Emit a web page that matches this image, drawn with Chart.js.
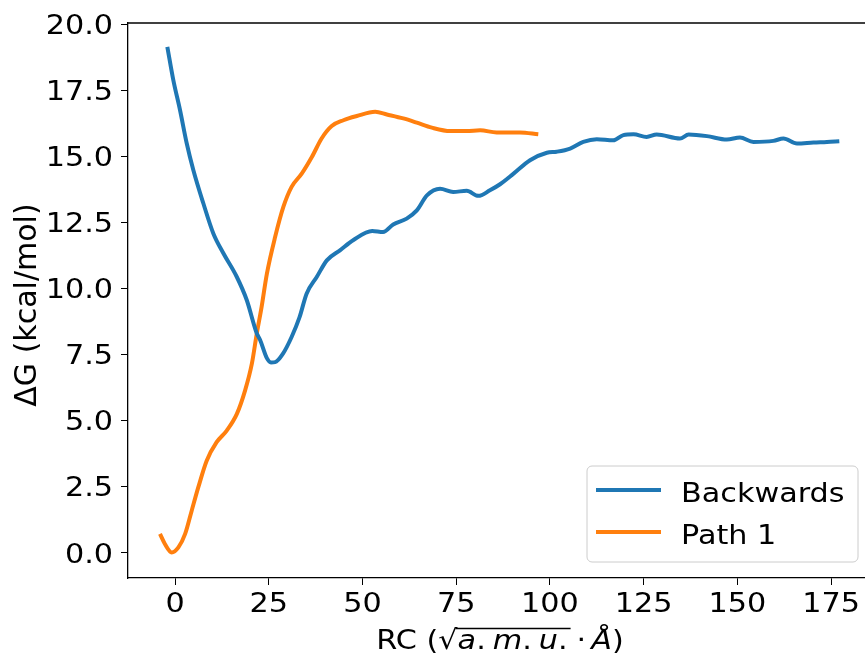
<!DOCTYPE html>
<html>
<head>
<meta charset="utf-8">
<script src="https://cdn.jsdelivr.net/npm/chart.js@4.4.1/dist/chart.umd.min.js"></script>
<style>
  html, body { margin: 0; padding: 0; background: #fff; }
  canvas { display: block; }
</style>
</head>
<body>
<canvas id="chart-dg" width="865" height="658"></canvas>
<script>
// RC values (x) and free energy (kcal/mol) for each profile
const backwardsX = [-2.05, -0.45, 1.33, 3.12, 4.88, 7.55, 10.22, 12.9, 16.46, 19.13, 21.8, 22.7, 24.5, 25.6, 26.7, 28.8, 31.1, 33.2, 35.1, 37.8,
    40.5, 44.0, 47.6, 52.6, 55.5, 58.2, 61.8, 64.5, 67.2, 70.7, 74.2, 77.8, 80.9, 84.0, 86.7, 90.3, 94.7, 99.2, 101.8, 105.4,
    108.9, 112.5, 116.9, 119.6, 122.3, 125.8, 128.5, 134.7, 137.0, 141.9, 147.2, 150.7, 154.3, 159.6, 162.3, 165.9, 170.3, 173.9, 177.2];
const backwardsY = [19.14, 17.88, 16.75, 15.49, 14.48, 13.22, 12.08, 11.33, 10.44, 9.56, 8.3, 8.05, 7.36, 7.2, 7.21, 7.53, 8.16, 8.9, 9.8, 10.43,
    11.06, 11.44, 11.83, 12.17, 12.13, 12.42, 12.64, 12.95, 13.52, 13.77, 13.65, 13.69, 13.5, 13.71, 13.94, 14.34, 14.85, 15.13, 15.17, 15.29,
    15.54, 15.64, 15.6, 15.8, 15.83, 15.73, 15.82, 15.67, 15.82, 15.76, 15.63, 15.71, 15.54, 15.58, 15.67, 15.48, 15.52, 15.54, 15.57];

const path1X = [-4.0, -2.7, -0.9, 0.9, 2.7, 4.45, 6.2, 8.45, 11.1, 13.8, 16.5, 18.7, 20.5, 21.8, 23.1, 24.5, 26.7, 28.9, 31.1, 33.8,
    36.5, 39.1, 41.8, 44.9, 48.5, 53.4, 56.5, 60.9, 64.5, 68.5, 73.4, 77.8, 81.4, 85.8, 92.0, 96.9];
const path1Y = [0.71, 0.33, 0.01, 0.2, 0.71, 1.59, 2.47, 3.48, 4.18, 4.62, 5.25, 6.14, 7.15, 8.28, 9.3, 10.55, 11.94, 13.08, 13.84, 14.34,
    14.97, 15.67, 16.14, 16.36, 16.52, 16.68, 16.58, 16.43, 16.27, 16.08, 15.95, 15.95, 15.98, 15.9, 15.9, 15.83];

const seriesLabels = ['Backwards', 'Path 1'];
const xTicks = [0, 25, 50, 75, 100, 125, 150, 175];
const yTicks = [0, 2.5, 5, 7.5, 10, 12.5, 15, 17.5, 20];

const CORES = { blue: '#1f77b4', orange: '#ff7f0e', eixo: '#000000' };
const FONTE = '"DejaVu Sans", "Liberation Sans", sans-serif';
const F_TICK = `27px ${FONTE}`;
const F_ITA = `italic 27px ${FONTE}`;
const F_YLAB = `30px ${FONTE}`;
const ESTICA = 1.12; // text is a bit wider than tall

function pontos(xs, ys) {
    return xs.map((x, i) => ({ x: x, y: ys[i] }));
}

function texto(ctx, t, x, y, font, align) {
    ctx.save();
    ctx.font = font;
    ctx.fillStyle = '#000';
    ctx.textAlign = align || 'left';
    ctx.textBaseline = 'alphabetic';
    ctx.translate(x, y);
    ctx.scale(ESTICA, 1);
    ctx.fillText(t, 0, 0);
    ctx.restore();
}

function largura(ctx, t, font) {
    ctx.font = font;
    return ctx.measureText(t).width * ESTICA;
}

// top spine, tick labels, axis titles and legend
const extras = {
    id: 'extras',
    afterDraw(chart) {
        const { ctx, chartArea } = chart;
        ctx.save();
        ctx.strokeStyle = CORES.eixo;
        ctx.lineWidth = 1.3;
        ctx.beginPath();
        ctx.moveTo(chartArea.left, chartArea.top);
        ctx.lineTo(chart.width, chartArea.top);
        ctx.stroke();
        ctx.restore();

        const sx = chart.scales.x, sy = chart.scales.y;
        xTicks.forEach(v => texto(ctx, String(v), sx.getPixelForValue(v), 612, F_TICK, 'center'));
        yTicks.forEach(v => texto(ctx, v.toFixed(1), 113, sy.getPixelForValue(v) + 9.8, F_TICK, 'right'));

        ctx.save();
        ctx.fillStyle = '#000';
        ctx.font = F_YLAB;
        ctx.translate(36, 305);
        ctx.rotate(-Math.PI / 2);
        ctx.textAlign = 'center';
        ctx.textBaseline = 'alphabetic';
        ctx.fillText('ΔG (kcal/mol)', 0, 0);
        ctx.restore();

        desenharTituloX(ctx, 500, 649);
        desenharLegenda(chart);
    }
};

function desenharTituloX(ctx, cx, base) {
    const partes = [
        { t: 'RC (', f: F_TICK },
        { t: '√', f: F_TICK, raiz: true },
        { t: 'a', f: F_ITA, barra: true }, { t: '.', f: F_TICK, barra: true, gap: 7 },
        { t: 'm', f: F_ITA, barra: true }, { t: '.', f: F_TICK, barra: true, gap: 7 },
        { t: 'u', f: F_ITA, barra: true }, { t: '.', f: F_TICK, barra: true, gap: 3 },
        { t: '·', f: F_TICK, pre: 6, gap: 5 },
        { t: 'Å', f: F_ITA },
        { t: ')', f: F_TICK }
    ];
    let total = 0;
    partes.forEach(p => { p.w = largura(ctx, p.t, p.f) + (p.gap || 0) + (p.pre || 0); total += p.w; });
    let x = cx - total / 2;
    let barIni = null, barFim = null;
    partes.forEach(p => {
        texto(ctx, p.t, x + (p.pre || 0), base, p.f, 'left');
        if (p.raiz) barIni = x + p.w - 2;
        if (p.barra) barFim = x + p.w;
        x += p.w;
    });
    ctx.save();
    ctx.strokeStyle = '#000';
    ctx.lineWidth = 1.5;
    ctx.beginPath();
    ctx.moveTo(barIni, base - 20.5);
    ctx.lineTo(barFim, base - 20.5);
    ctx.stroke();
    ctx.restore();
}

function desenharLegenda(chart) {
    const ctx = chart.ctx;
    ctx.save();
    ctx.beginPath();
    ctx.roundRect(587, 466, 271, 96, 5);
    ctx.fillStyle = 'rgba(255,255,255,0.8)';
    ctx.fill();
    ctx.strokeStyle = '#cccccc';
    ctx.lineWidth = 1;
    ctx.stroke();
    chart.data.datasets.forEach((ds, i) => {
        const yy = 490 + i * 42;
        ctx.strokeStyle = ds.borderColor;
        ctx.lineWidth = 4;
        ctx.beginPath();
        ctx.moveTo(596, yy);
        ctx.lineTo(661, yy);
        ctx.stroke();
        texto(ctx, ds.label, 681, yy + 12, F_TICK, 'left');
    });
    ctx.restore();
}

function eixo(min, max, ticks, ehX) {
    return {
        type: 'linear',
        min: min,
        max: max,
        afterBuildTicks: (s) => { s.ticks = ticks.map(v => ({ value: v })); },
        afterFit: (s) => { if (ehX) s.height = 80; else s.width = 128; },
        grid: { display: true, drawOnChartArea: false, drawTicks: true, tickLength: 7, color: CORES.eixo, lineWidth: 1 },
        border: { display: true, color: CORES.eixo, width: 1.3 },
        ticks: { display: false }
    };
}

new Chart(document.getElementById('chart-dg'), {
    type: 'line',
    data: {
        datasets: [
            { label: seriesLabels[0], data: pontos(backwardsX, backwardsY), borderColor: CORES.blue, borderWidth: 4, pointRadius: 0, cubicInterpolationMode: 'monotone', fill: false },
            { label: seriesLabels[1], data: pontos(path1X, path1Y), borderColor: CORES.orange, borderWidth: 4, pointRadius: 0, cubicInterpolationMode: 'monotone', fill: false }
        ]
    },
    options: {
        responsive: false,
        animation: false,
        devicePixelRatio: 1,
        layout: { padding: { top: 23, left: 0, right: 0, bottom: 0 } },
        plugins: { legend: { display: false }, tooltip: { enabled: false } },
        scales: {
            x: eixo(-12.54, 184.05, xTicks, true),
            y: eixo(-0.957, 20.04, yTicks, false)
        }
    },
    plugins: [extras]
});
</script>
</body>
</html>
